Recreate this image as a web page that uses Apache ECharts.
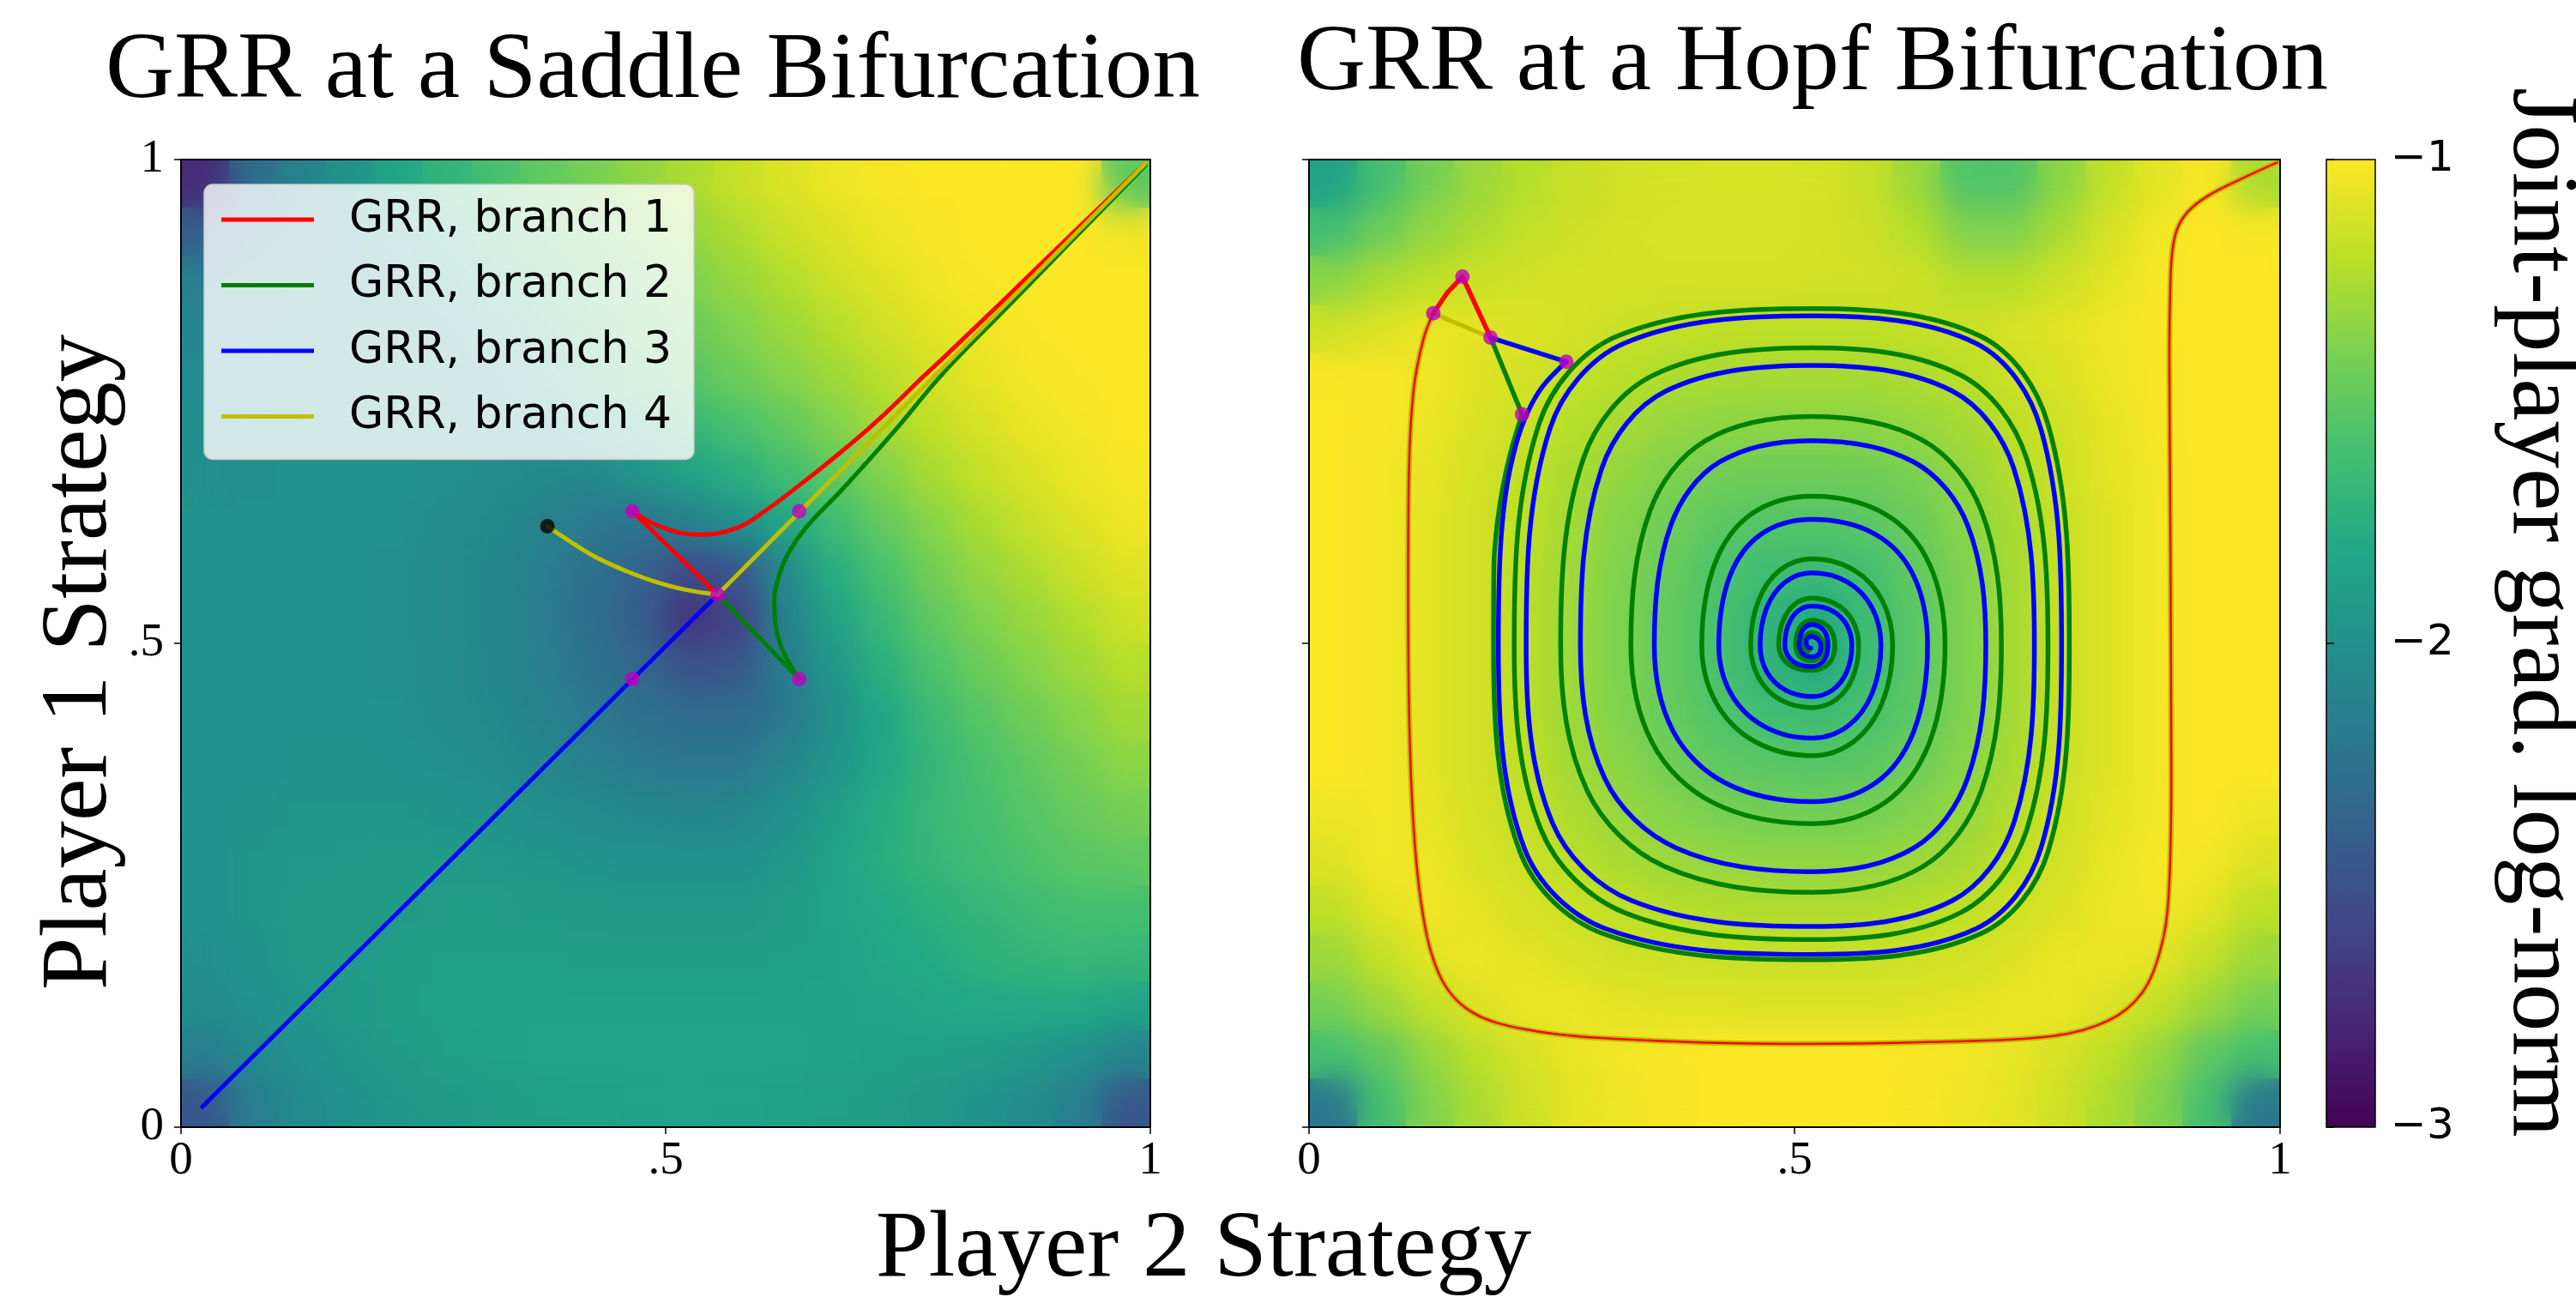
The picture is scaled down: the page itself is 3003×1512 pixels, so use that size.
<!DOCTYPE html>
<html><head><meta charset="utf-8">
<script src="https://cdn.jsdelivr.net/npm/echarts@6.0.0/dist/echarts.min.js"></script>
<style>
html,body{margin:0;padding:0;background:#fff;}
body{width:3003px;height:1512px;position:relative;overflow:hidden;}
.layer{position:absolute;left:0;top:0;width:3003px;height:1512px;}
.clip{position:absolute;overflow:hidden;}
</style></head><body>
<div id="bg" class="layer"></div>
<div class="clip" style="left:211px;top:186px;width:1130px;height:1128px;"><div id="b0" style="width:1130px;height:1128px;filter:blur(18px);"></div></div>
<div class="clip" style="left:1526px;top:186px;width:1132px;height:1128px;"><div id="b1" style="width:1132px;height:1128px;filter:blur(18px);"></div></div>
<div id="fg" class="layer"></div>
<script>
// ---------- DATA ----------
const viridis = ['#440154','#482475','#414487','#355f8d','#2a788e','#21918c','#22a884','#44bf70','#7ad151','#bddf26','#fde725'];
const N = 20;
// rows listed from top (y=0.975) to bottom (y=0.025), columns x=0.025..0.975
const heatLeft = [
[-2.75,-2.3,-2.12,-1.97,-1.82,-1.7,-1.59,-1.49,-1.41,-1.33,-1.25,-1.17,-1.1,-1.05,-1.02,-1.0,-1.0,-1.0,-1.0,-1.5],
[-2.4,-2.2,-2.1,-2.03,-1.95,-1.81,-1.69,-1.58,-1.48,-1.4,-1.32,-1.24,-1.16,-1.1,-1.05,-1.02,-1.0,-1.0,-1.0,-1.05],
[-2.15,-2.1,-2.05,-2.03,-2.0,-1.92,-1.79,-1.67,-1.56,-1.47,-1.39,-1.31,-1.23,-1.15,-1.09,-1.04,-1.01,-1.0,-1.0,-1.0],
[-2.1,-2.06,-2.03,-2.02,-2.01,-1.99,-1.9,-1.77,-1.65,-1.55,-1.46,-1.38,-1.3,-1.22,-1.14,-1.08,-1.04,-1.01,-1.0,-1.0],
[-2.05,-2.03,-2.02,-2.01,-2.0,-2.0,-1.99,-1.87,-1.75,-1.63,-1.53,-1.45,-1.37,-1.29,-1.21,-1.13,-1.07,-1.03,-1.01,-1.0],
[-2.03,-2.02,-2.01,-2.0,-2.0,-2.0,-2.0,-2.01,-1.89,-1.78,-1.68,-1.58,-1.49,-1.38,-1.27,-1.19,-1.12,-1.06,-1.03,-1.0],
[-2.02,-2.01,-2.0,-2.0,-2.0,-2.01,-2.03,-2.06,-2.08,-1.96,-1.86,-1.75,-1.62,-1.5,-1.38,-1.26,-1.18,-1.11,-1.055,-1.02],
[-2.0,-2.0,-2.0,-2.0,-2.0,-2.03,-2.07,-2.12,-2.19,-2.22,-2.13,-2.01,-1.83,-1.63,-1.48,-1.36,-1.25,-1.17,-1.1,-1.05],
[-2.0,-2.0,-2.0,-2.0,-2.01,-2.05,-2.09,-2.16,-2.26,-2.38,-2.55,-2.45,-2.04,-1.76,-1.58,-1.43,-1.32,-1.24,-1.16,-1.09],
[-2.0,-2.0,-2.0,-2.0,-2.01,-2.05,-2.09,-2.17,-2.27,-2.42,-2.7,-2.6,-2.12,-1.86,-1.66,-1.5,-1.39,-1.31,-1.23,-1.15],
[-2.0,-2.0,-2.0,-2.0,-2.01,-2.04,-2.09,-2.15,-2.24,-2.34,-2.5,-2.45,-2.16,-1.94,-1.74,-1.57,-1.46,-1.37,-1.29,-1.22],
[-2.0,-2.0,-1.99,-1.99,-2.0,-2.03,-2.07,-2.12,-2.19,-2.25,-2.3,-2.3,-2.2,-2.0,-1.82,-1.65,-1.53,-1.44,-1.36,-1.28],
[-2.0,-1.99,-1.98,-1.98,-1.99,-2.01,-2.05,-2.09,-2.14,-2.18,-2.2,-2.2,-2.1,-1.96,-1.82,-1.69,-1.58,-1.5,-1.42,-1.35],
[-1.99,-1.97,-1.96,-1.96,-1.96,-1.97,-1.99,-2.02,-2.05,-2.08,-2.1,-2.08,-2.0,-1.89,-1.77,-1.67,-1.6,-1.53,-1.47,-1.42],
[-1.99,-1.96,-1.94,-1.93,-1.92,-1.92,-1.94,-1.96,-1.97,-1.98,-1.99,-1.99,-1.94,-1.85,-1.76,-1.68,-1.63,-1.57,-1.52,-1.5],
[-1.99,-1.96,-1.93,-1.92,-1.91,-1.9,-1.9,-1.91,-1.92,-1.93,-1.93,-1.93,-1.9,-1.85,-1.8,-1.74,-1.69,-1.64,-1.6,-1.6],
[-2.02,-1.97,-1.93,-1.91,-1.89,-1.88,-1.88,-1.88,-1.89,-1.89,-1.89,-1.89,-1.88,-1.86,-1.82,-1.78,-1.73,-1.69,-1.67,-1.68],
[-2.05,-2.0,-1.95,-1.92,-1.89,-1.87,-1.86,-1.86,-1.86,-1.86,-1.86,-1.86,-1.86,-1.86,-1.85,-1.83,-1.81,-1.8,-1.8,-1.85],
[-2.15,-2.06,-2.0,-1.95,-1.91,-1.88,-1.86,-1.85,-1.85,-1.85,-1.85,-1.85,-1.85,-1.86,-1.87,-1.88,-1.9,-1.93,-1.99,-2.1],
[-2.45,-2.15,-2.05,-1.98,-1.95,-1.92,-1.9,-1.88,-1.87,-1.86,-1.85,-1.86,-1.87,-1.88,-1.9,-1.93,-1.97,-2.04,-2.15,-2.45]
];
const heatRight = [
[-1.85,-1.6,-1.42,-1.3,-1.22,-1.17,-1.14,-1.13,-1.12,-1.12,-1.13,-1.17,-1.3,-1.55,-1.55,-1.35,-1.18,-1.08,-1.02,-1.25],
[-1.6,-1.45,-1.32,-1.24,-1.18,-1.15,-1.13,-1.12,-1.12,-1.12,-1.13,-1.15,-1.22,-1.38,-1.38,-1.25,-1.12,-1.03,-1.0,-1.02],
[-1.35,-1.25,-1.2,-1.16,-1.14,-1.13,-1.13,-1.13,-1.13,-1.13,-1.14,-1.14,-1.15,-1.22,-1.22,-1.15,-1.08,-1.02,-1.0,-1.0],
[-1.15,-1.1,-1.06,-1.08,-1.1,-1.13,-1.16,-1.18,-1.19,-1.19,-1.19,-1.19,-1.18,-1.16,-1.12,-1.08,-1.04,-1.01,-1.0,-1.0],
[-1.02,-1.02,-1.04,-1.09,-1.14,-1.18,-1.21,-1.25,-1.26,-1.27,-1.27,-1.27,-1.25,-1.21,-1.16,-1.11,-1.05,-1.02,-1.0,-1.0],
[-1.0,-1.02,-1.06,-1.11,-1.16,-1.22,-1.27,-1.32,-1.34,-1.35,-1.35,-1.35,-1.32,-1.27,-1.2,-1.14,-1.07,-1.02,-1.0,-1.0],
[-1.0,-1.03,-1.07,-1.13,-1.19,-1.26,-1.33,-1.39,-1.43,-1.45,-1.45,-1.44,-1.4,-1.32,-1.23,-1.15,-1.08,-1.03,-1.0,-1.0],
[-1.0,-1.03,-1.08,-1.14,-1.2,-1.28,-1.37,-1.45,-1.51,-1.54,-1.54,-1.52,-1.46,-1.36,-1.26,-1.17,-1.09,-1.03,-1.0,-1.0],
[-1.0,-1.03,-1.08,-1.14,-1.21,-1.3,-1.39,-1.48,-1.57,-1.63,-1.64,-1.6,-1.5,-1.38,-1.27,-1.17,-1.09,-1.03,-1.0,-1.0],
[-1.0,-1.03,-1.08,-1.14,-1.21,-1.3,-1.4,-1.49,-1.59,-1.71,-1.8,-1.64,-1.51,-1.39,-1.27,-1.17,-1.09,-1.03,-1.0,-1.0],
[-1.0,-1.03,-1.08,-1.14,-1.21,-1.3,-1.4,-1.49,-1.59,-1.71,-1.79,-1.64,-1.51,-1.39,-1.27,-1.17,-1.09,-1.03,-1.0,-1.0],
[-1.0,-1.03,-1.08,-1.14,-1.21,-1.3,-1.39,-1.48,-1.56,-1.62,-1.63,-1.59,-1.5,-1.38,-1.27,-1.17,-1.09,-1.03,-1.0,-1.0],
[-1.0,-1.03,-1.08,-1.14,-1.2,-1.28,-1.36,-1.44,-1.5,-1.52,-1.53,-1.51,-1.45,-1.36,-1.26,-1.16,-1.09,-1.03,-1.0,-1.0],
[-1.05,-1.03,-1.07,-1.13,-1.18,-1.25,-1.32,-1.37,-1.41,-1.43,-1.43,-1.42,-1.38,-1.31,-1.23,-1.15,-1.08,-1.03,-1.0,-1.05],
[-1.1,-1.03,-1.05,-1.11,-1.16,-1.21,-1.26,-1.3,-1.32,-1.33,-1.33,-1.33,-1.3,-1.26,-1.19,-1.13,-1.06,-1.02,-1.03,-1.1],
[-1.2,-1.08,-1.04,-1.08,-1.12,-1.16,-1.19,-1.22,-1.23,-1.24,-1.24,-1.24,-1.22,-1.19,-1.15,-1.1,-1.05,-1.03,-1.08,-1.2],
[-1.3,-1.18,-1.08,-1.05,-1.08,-1.11,-1.14,-1.15,-1.16,-1.16,-1.16,-1.16,-1.15,-1.13,-1.1,-1.06,-1.05,-1.08,-1.18,-1.3],
[-1.42,-1.3,-1.18,-1.1,-1.06,-1.06,-1.08,-1.09,-1.09,-1.1,-1.1,-1.1,-1.09,-1.08,-1.06,-1.06,-1.1,-1.18,-1.3,-1.42],
[-1.6,-1.5,-1.32,-1.2,-1.12,-1.06,-1.03,-1.01,-1.0,-1.0,-1.0,-1.0,-1.01,-1.03,-1.06,-1.12,-1.2,-1.32,-1.5,-1.6],
[-2.2,-1.6,-1.38,-1.25,-1.15,-1.08,-1.04,-1.02,-1.0,-1.0,-1.0,-1.0,-1.02,-1.04,-1.08,-1.15,-1.25,-1.38,-1.6,-2.2]
];
const tickLabels = ['0', '.5', '1'];
const cbTickLabels = ['\u22123', '\u22122', '\u22121'];
const branchNames = ['GRR, branch 1', 'GRR, branch 2', 'GRR, branch 3', 'GRR, branch 4'];
const branchColors = ['#ff0000', '#008000', '#0000ff', '#bfbf00'];
const dotColor = '#bf00bf';

// Left panel (saddle)
const L_b3 = [[0.022,0.021],[0.5536,0.5504]];
const L_b1Seg = [[0.4656,0.6365],[0.5536,0.5504]];
const L_b1Curve = [[0.4656,0.6365],[0.497,0.6195],[0.5355,0.6123],[0.574,0.6195],[0.602,0.6365],[0.640,0.6650],[0.683,0.6995],[0.720,0.7315],[0.765,0.775],[0.787,0.7955],[0.85,0.856],[0.92,0.924],[0.995,0.996]];
const L_b2Seg = [[0.5536,0.5504],[0.6378,0.4633]];
const L_b2Curve = [[0.6378,0.4633],[0.622,0.490],[0.614,0.515],[0.612,0.545],[0.617,0.570],[0.627,0.594],[0.645,0.620],[0.683,0.660],[0.734,0.717],[0.787,0.780],[0.85,0.845],[0.92,0.917],[0.995,0.994]];
const L_b4Line = [[0.5536,0.5504],[0.995,0.996]];
const L_b4Curve = [[0.378,0.621],[0.405,0.603],[0.430,0.588],[0.460,0.5745],[0.490,0.5635],[0.520,0.5555],[0.5536,0.5504]];
const L_dots = [[0.4656,0.6365],[0.6378,0.6366],[0.5536,0.5504],[0.4656,0.4633],[0.6378,0.4633]];
const L_start = [[0.378,0.621]];

// Right panel (Hopf)
const R_loop = [[0.997,0.997],[0.96,0.98],[0.925,0.962],[0.905,0.946],[0.894,0.928],[0.889,0.905],[0.887,0.87],[0.886,0.80],[0.887,0.617],[0.888,0.362],[0.885,0.235],[0.877,0.184],[0.858,0.139],[0.823,0.110],[0.765,0.094],[0.638,0.088],[0.497,0.086],[0.319,0.091],[0.223,0.101],[0.166,0.120],[0.134,0.158],[0.115,0.235],[0.105,0.362],[0.102,0.554],[0.103,0.681],[0.108,0.764],[0.118,0.815],[0.128,0.841]];
const R_b1Spur = [[0.128,0.841],[0.142,0.862],[0.158,0.879],[0.187,0.816]];
const R_b4Spur = [[0.128,0.841],[0.187,0.816]];
const R_b3Spur = [[0.187,0.816],[0.265,0.791]];
const R_b2Spur = [[0.187,0.816],[0.2194,0.7367]];
const R_b3Spiral = [[0.265,0.791],[0.241,0.766],[0.2253,0.739],[0.213,0.705],[0.2026,0.655],[0.1968,0.592],
[0.195,0.498],[0.2218,0.2881],[0.3058,0.205],[0.518,0.1785],[0.6868,0.205],[0.7537,0.2881],[0.775,0.498],[0.7537,0.7216],[0.6868,0.8101],[0.518,0.8384],[0.3246,0.8101],[0.248,0.7216],
[0.2236,0.498],[0.2505,0.3149],[0.3325,0.234],[0.518,0.2074],[0.6623,0.234],[0.726,0.3149],[0.747,0.498],[0.726,0.6803],[0.6623,0.7608],[0.518,0.7873],[0.3677,0.7608],[0.3013,0.6803],
[0.2795,0.498],[0.3045,0.3606],[0.378,0.2886],[0.518,0.264],[0.6231,0.2886],[0.6782,0.3606],[0.697,0.498],[0.6782,0.6222],[0.6231,0.6873],[0.518,0.7095],[0.4227,0.6873],[0.3727,0.6222],
[0.3556,0.498],[0.3748,0.4096],[0.4292,0.3555],[0.518,0.3364],[0.5831,0.3555],[0.623,0.4096],[0.637,0.498],[0.623,0.5691],[0.5831,0.6127],[0.518,0.628],[0.4655,0.6127],[0.4333,0.5691],
[0.422,0.498],[0.4343,0.4484],[0.4684,0.4143],[0.518,0.402],[0.5547,0.4143],[0.5799,0.4484],[0.589,0.498],[0.5799,0.5367],[0.5547,0.5633],[0.518,0.5729],[0.4904,0.5633],[0.4714,0.5367],
[0.4646,0.498],[0.4714,0.4706],[0.4904,0.4518],[0.518,0.445],[0.5392,0.4518],[0.5538,0.4706],[0.559,0.498],[0.5538,0.519],[0.5392,0.5334],[0.518,0.5386],[0.5035,0.5334],[0.4936,0.519],
[0.490,0.498],[0.4976,0.482],[0.518,0.476],[0.530,0.482],[0.5345,0.498],[0.530,0.5137],[0.518,0.5195],[0.5084,0.5137],
[0.5048,0.498],[0.509,0.489],[0.518,0.486],[0.526,0.490],[0.527,0.498],[0.523,0.505],[0.517,0.507],[0.512,0.503],[0.513,0.497],[0.517,0.495]];
const R_b2Spiral = [[0.2194,0.7367],[0.206,0.691],[0.1956,0.637],[0.1904,0.579],
[0.190,0.498],[0.2172,0.2845],[0.3025,0.2001],[0.518,0.1731],[0.6921,0.2001],[0.761,0.2845],[0.783,0.498],[0.761,0.7266],[0.6921,0.8171],[0.518,0.846],[0.3165,0.8171],[0.2368,0.7266],
[0.2113,0.498],[0.2394,0.3064],[0.3248,0.2217],[0.518,0.1939],[0.6711,0.2217],[0.7388,0.3064],[0.761,0.498],[0.7388,0.6917],[0.6711,0.7773],[0.518,0.8054],[0.3549,0.7773],[0.2828,0.6917],
[0.2591,0.498],[0.2863,0.3481],[0.366,0.2695],[0.518,0.2427],[0.6325,0.2695],[0.6925,0.3481],[0.713,0.498],[0.6925,0.6368],[0.6325,0.7096],[0.518,0.7344],[0.4085,0.7096],[0.3511,0.6368],
[0.3315,0.498],[0.3535,0.3972],[0.416,0.3354],[0.518,0.3137],[0.5929,0.3354],[0.6388,0.3972],[0.655,0.498],[0.6388,0.5822],[0.5929,0.6338],[0.518,0.652],[0.4559,0.6338],[0.4179,0.5822],
[0.4045,0.498],[0.419,0.439],[0.4593,0.3985],[0.518,0.3839],[0.5609,0.3985],[0.5904,0.439],[0.601,0.498],[0.5904,0.5442],[0.5609,0.576],[0.518,0.5874],[0.4853,0.576],[0.4629,0.5442],
[0.4548,0.498],[0.4629,0.4647],[0.4853,0.4418],[0.518,0.4336],[0.5428,0.4418],[0.5599,0.4647],[0.566,0.498],[0.5599,0.5232],[0.5428,0.5405],[0.518,0.5467],[0.5003,0.5405],[0.4881,0.5232],
[0.4837,0.498],[0.493,0.479],[0.518,0.472],[0.5352,0.479],[0.5415,0.498],[0.5352,0.517],[0.518,0.524],[0.5057,0.517],
[0.5012,0.498],[0.506,0.486],[0.518,0.482],[0.527,0.487],[0.530,0.498],[0.526,0.507],[0.518,0.511],[0.510,0.506],[0.509,0.498],[0.514,0.492]];
const R_dots = [[0.128,0.841],[0.158,0.879],[0.187,0.816],[0.265,0.791],[0.2194,0.7367]];

// ---------- LAYOUT ----------
const PL = {left:211, top:186, width:1130, height:1128};
const PR = {left:1526, top:186, width:1132, height:1128};
const CB = {left:2712, top:186, width:57, height:1128};
const SERIF = '"Liberation Serif", "Times New Roman", serif';
const SANS = '"DejaVu Sans", sans-serif';

function toCells(rows){ const out=[]; rows.forEach((row,r)=>row.forEach((v,i)=>out.push([i, N-1-r, v]))); return out; }
const cats = Array.from({length:N}, (_, i) => i);
function g(box){ return Object.assign({containLabel:false, outerBoundsMode:'none', show:false}, box); }
function catAxis(gi){ return {type:'category', data:cats, gridIndex:gi, show:false, boundaryGap:true}; }
function heat(gi, rows){ return {type:'heatmap', xAxisIndex:gi, yAxisIndex:gi, data:toCells(rows), silent:true, progressive:0, itemStyle:{borderWidth:0}, emphasis:{disabled:true}}; }
const vmBase = {type:'continuous', min:-3, max:-1, calculable:false, inRange:{color:viridis}, hoverLink:false};

// background sharp heatmaps + colorbar
const bg = echarts.init(document.getElementById('bg'), null, {renderer:'canvas'});
bg.setOption({
  animation:false,
  grid:[g(PL), g(PR)],
  xAxis:[catAxis(0), catAxis(1)],
  yAxis:[catAxis(0), catAxis(1)],
  visualMap:Object.assign({}, vmBase, {seriesIndex:[0,1], show:true, orient:'vertical', left:CB.left, top:CB.top, itemWidth:CB.width, itemHeight:CB.height, padding:0, text:null, showLabel:false}),
  series:[heat(0, heatLeft), heat(1, heatRight)]
});

// blurred overlays for smooth look
[['b0', heatLeft], ['b1', heatRight]].forEach(([id, rows]) => {
  const c = echarts.init(document.getElementById(id), null, {renderer:'canvas'});
  c.setOption({
    animation:false,
    grid:[g({left:0, top:0, right:0, bottom:0})],
    xAxis:[catAxis(0)], yAxis:[catAxis(0)],
    visualMap:Object.assign({}, vmBase, {seriesIndex:0, show:false}),
    series:[heat(0, rows)]
  });
});

// foreground: axes, curves, legend, texts
function valAxis(gi, showLabels, margin){
  return {type:'value', gridIndex:gi, min:0, max:1, interval:0.5,
    axisLine:{show:false}, splitLine:{show:false},
    axisTick:{show:true, inside:false, length:8, lineStyle:{color:'#000', width:1.5}},
    axisLabel:{show:showLabels, margin:margin, fontFamily:SERIF, fontSize:55, color:'#000', showMinLabel:true, showMaxLabel:true,
      formatter:(v)=>tickLabels[Math.round(v*2)]}};
}
function line(name, data, color, width, gi, smooth, z){
  return {type:'line', name:name, data:data, xAxisIndex:gi, yAxisIndex:gi, symbol:'none', showSymbol:false,
    smooth:smooth || false, lineStyle:{color:color, width:width, cap:'round', join:'round'}, itemStyle:{color:color},
    z:z || 2, silent:true, clip:true, emphasis:{disabled:true}};
}
function dots(data, color, gi){
  return {type:'scatter', data:data, xAxisIndex:gi, yAxisIndex:gi, symbol:'circle', symbolSize:17,
    itemStyle:{color:color}, z:5, silent:true, emphasis:{disabled:true}};
}
function txt(x, y, text, rot){
  return {type:'text', x:x, y:y, rotation:rot || 0, z:100, silent:true,
    style:{text:text, font:'111px ' + SERIF, fill:'#000', align:'center', verticalAlign:'middle', textAlign:'center', textVerticalAlign:'middle'}};
}
function frame(b, w){
  return {type:'rect', z:100, silent:true, shape:{x:b.left, y:b.top, width:b.width, height:b.height},
    style:{fill:'transparent', stroke:'#000', lineWidth:w}};
}
const [cR, cG, cB, cY] = branchColors;
const [n1, n2, n3, n4] = branchNames;

const fg = echarts.init(document.getElementById('fg'), null, {renderer:'canvas'});
fg.setOption({
  animation:false,
  backgroundColor:'transparent',
  grid:[g(PL), g(PR), g(CB)],
  xAxis:[valAxis(0, true, 12), valAxis(1, true, 12), {type:'value', gridIndex:2, show:false, min:0, max:1}],
  yAxis:[valAxis(0, true, 20), valAxis(1, false, 20),
    {type:'value', gridIndex:2, position:'right', min:-3, max:-1, interval:1,
     axisLine:{show:false}, splitLine:{show:false},
     axisTick:{show:true, length:9, lineStyle:{color:'#000', width:1.5}},
     axisLabel:{margin:18, fontFamily:SANS, fontSize:50, color:'#000', showMinLabel:true, showMaxLabel:true,
       formatter:(v)=>cbTickLabels[Math.round(v)+3]}}],
  legend:{data:branchNames, orient:'vertical', left:238, top:215, icon:'rect', itemWidth:108, itemHeight:5, itemGap:16.5,
    padding:[11,26,20,20], backgroundColor:'rgba(255,255,255,0.8)', borderColor:'#cccccc', borderWidth:1.5, borderRadius:10,
    selectedMode:false, textStyle:{fontFamily:SANS, fontSize:52, color:'#000', lineHeight:60, padding:[0,0,0,36]}},
  series:[
    // left panel
    line(n1, L_b1Seg, cR, 5, 0, false, 2),
    line(n1, L_b1Curve, cR, 5, 0, 0.4, 2),
    line(n2, L_b2Seg, cG, 5, 0, false, 2),
    line(n2, L_b2Curve, cG, 5, 0, 0.4, 2),
    line(n3, L_b3, cB, 5, 0, false, 2),
    line(n4, L_b4Line, cY, 5, 0, false, 3),
    line(n4, L_b4Curve, cY, 5, 0, 0.4, 3),
    dots(L_dots, dotColor, 0),
    dots(L_start, '#000000', 0),
    // right panel
    line(n4, R_loop, cY, 6.5, 1, 0.35, 2),
    line(n4, R_b4Spur, cY, 5, 1, false, 2),
    line(n1, R_loop, cR, 2.5, 1, 0.35, 3),
    line(n1, R_b1Spur, cR, 5.5, 1, false, 3),
    line(n2, R_b2Spur, cG, 5.5, 1, false, 3),
    line(n2, R_b2Spiral, cG, 5.5, 1, 0.35, 3),
    line(n3, R_b3Spur, cB, 5.5, 1, false, 4),
    line(n3, R_b3Spiral, cB, 5.5, 1, 0.35, 4),
    dots(R_dots, dotColor, 1)
  ],
  graphic:[
    txt(761, 84, 'GRR at a Saddle Bifurcation'),
    txt(2113, 75, 'GRR at a Hopf Bifurcation'),
    txt(1403, 1458, 'Player 2 Strategy'),
    txt(94, 772, 'Player 1 Strategy', Math.PI/2),
    txt(2960, 714, 'Joint-player grad. log-norm', -Math.PI/2),
    frame(PL, 2), frame(PR, 2), frame(CB, 1.5)
  ]
});
</script>
</body></html>
